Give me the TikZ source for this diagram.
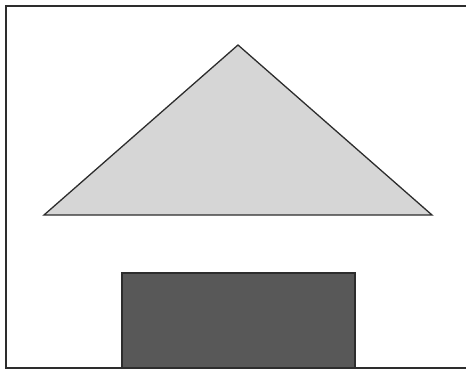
\documentclass[tikz,border=0pt]{standalone}
\usepackage{xcolor}
\definecolor{roofgray}{RGB}{214,214,214}
\definecolor{wallgray}{RGB}{88,88,88}
\definecolor{edgegray}{RGB}{45,45,45}

\begin{document}
\begin{tikzpicture}[x=1pt,y=-1pt,
      frame/.style={draw=edgegray,line width=2pt},
      roof/.style={draw=edgegray,line width=1.3pt,fill=roofgray,line join=miter},
      wall/.style={draw=edgegray,line width=1.3pt,fill=wallgray}
    ]
    \useasboundingbox (0,0) rectangle (466,372);
    % outer frame (right side runs off the picture)
    \draw[frame] (466,6) -- (6,6) -- (6,368) -- (466,368);
    % triangle
    \draw[roof] (238,45) -- (432,215) -- (44,215) -- cycle;
    % box
    \draw[wall] (122,368) -- (122,273) -- (355,273) -- (355,368);
    \draw[frame] (6,368) -- (466,368);
  \end{tikzpicture}
\end{document}
